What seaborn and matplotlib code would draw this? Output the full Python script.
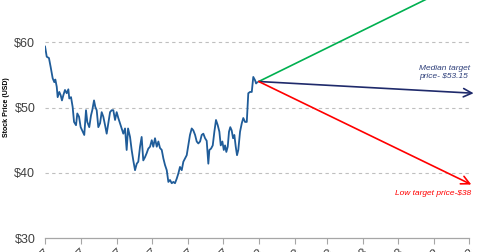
import numpy as np
import pandas as pd
import matplotlib
matplotlib.use("Agg")
import matplotlib.pyplot as plt
import matplotlib.dates as mdates
import seaborn as sns

# ---- data ----
start_date = "2017-07-01"
day_offsets = [0, 1.5, 3.4, 4.9, 6.6, 8.0, 8.9, 10.1, 10.9, 12.3, 13.5, 14.6, 15.8, 17.2,
               18.7, 20.1, 20.9, 22.4, 23.8, 25.0, 26.7, 27.8, 29.3, 30.7, 32.5, 33.8,
               35.3, 36.4, 38.1, 39.6, 40.7, 42.2, 43.3, 44.5, 45.9, 47.4, 48.8, 50.2,
               51.7, 53.1, 54.5, 56.0, 57.4, 58.8, 60.3, 61.7, 63.1, 64.6, 66.0, 67.4,
               68.9, 70.3, 71.5, 73.2, 74.6, 76.0, 77.5, 79.0, 80.3, 81.8, 83.2, 84.6,
               86.1, 87.5, 88.9, 90.4, 91.9, 93.2, 94.7, 96.2, 97.6, 99.0, 100.5, 101.9,
               103.3, 104.8, 106.2, 107.6, 109.1, 110.5, 111.9, 113.4, 114.8, 116.2,
               117.7, 119.1, 120.5, 122.0, 123.4, 124.8, 126.3, 127.7, 129.2, 130.6,
               132.0, 133.5, 134.9, 136.3, 137.8, 139.2, 140.6, 141.5, 142.9, 144.4,
               145.8, 147.2, 148.7, 150.1, 151.3, 152.7, 153.9, 155.0, 156.1, 157.3,
               158.4, 159.5, 160.7, 161.9, 163.0, 164.2, 165.3, 166.4, 167.9, 169.4,
               170.7, 172.2, 173.7, 175.0, 176.5, 178.0, 179.3, 180.8, 181.7, 182.8]
prices = [59.4, 57.8, 57.6, 56.2, 54.5, 53.9, 54.3, 53.2, 51.6, 52.4, 51.9, 51.1, 51.9, 52.7,
          52.2, 52.8, 51.4, 51.6, 50.1, 47.8, 47.3, 49.1, 48.6, 47.0, 46.3, 45.8,
          49.6, 47.8, 47.0, 48.8, 49.6, 51.1, 50.1, 49.6, 47.0, 47.6, 49.3, 48.6,
          47.3, 46.0, 47.6, 49.3, 49.6, 49.6, 48.1, 49.3, 48.4, 47.6, 46.8, 46.0,
          46.8, 43.5, 46.8, 45.5, 43.5, 41.9, 40.4, 41.4, 41.7, 44.0, 45.5, 41.9,
          42.4, 43.0, 43.7, 44.0, 45.0, 44.0, 45.3, 44.0, 44.8, 43.8, 43.5, 42.2,
          41.2, 40.4, 38.6, 38.9, 38.4, 38.6, 38.4, 39.1, 39.9, 40.9,
          40.4, 41.7, 42.2, 42.7, 44.2, 45.8, 46.8, 46.5, 45.8, 44.8,
          44.5, 44.8, 45.8, 46.0, 45.3, 44.9, 41.4, 43.5, 43.7, 44.2,
          46.3, 48.1, 47.3, 46.3, 44.2, 44.8, 43.5, 44.2, 43.2, 44.0,
          46.3, 47.0, 46.5, 45.3, 45.8, 44.0, 42.7, 43.5, 46.3, 47.6,
          48.4, 47.8, 47.8, 52.2, 52.4, 52.4, 54.7, 54.2, 53.7, 53.9]

proj_start_date = "2018-01-01"
proj_start_price = 54.0
proj_names = ["High", "Median", "Low"]
proj_end_dates = ["2018-07-04", "2018-07-05", "2018-07-03"]
proj_end_prices = [70.1, 52.2, 38.2]
proj_colors = ["#00B050", "#1F2A6B", "#FF0000"]

tick_dates = pd.date_range("2017-07-01", "2018-07-01", freq="MS")
y_ticks = [30, 40, 50, 60]
y_labels = ["$30", "$40", "$50", "$60"]

# ---- figure ----
sns.set_theme(style="white")
plt.rcParams["font.family"] = ["Liberation Sans", "DejaVu Sans"]

fig = plt.figure(figsize=(4.8, 2.52), dpi=100)
ax = fig.add_axes([45 / 480, 14 / 252, 424 / 480, 238 / 252])

df = pd.DataFrame({
    "date": pd.to_datetime(start_date) + pd.to_timedelta(day_offsets, unit="D"),
    "price": prices,
})
sns.lineplot(data=df, x="date", y="price", ax=ax, color="#1F5C99",
             linewidth=1.3, estimator=None, sort=False)

x0 = mdates.date2num(pd.to_datetime(proj_start_date))
for name, d, p, c in zip(proj_names, proj_end_dates, proj_end_prices, proj_colors):
    x1 = mdates.date2num(pd.to_datetime(d))
    ann = ax.annotate("", xy=(x1, p), xytext=(x0, proj_start_price),
                      arrowprops=dict(arrowstyle="->,head_length=0.5,head_width=0.25",
                                      color=c, lw=1.2, shrinkA=0, shrinkB=0),
                      annotation_clip=False)
    if name == "High":
        ann.arrow_patch.set_clip_on(True)
        ann.arrow_patch.set_clip_box(ax.bbox)

ax.text(mdates.date2num(pd.to_datetime("2018-05-19")), 56.6,
        "Median target\nprice- $53.15", color="#2E3F7A", fontsize=6,
        style="italic", ha="left", va="top", linespacing=1.2)
ax.text(mdates.date2num(pd.to_datetime("2018-07-03")), 36.8,
        "Low target price-$38", color="#FF0000", fontsize=6,
        style="italic", ha="right", va="center")

ax.set_xlim(mdates.date2num(tick_dates[0]), mdates.date2num(tick_dates[-1]))
ax.set_ylim(30, 66.5)
ax.set_xticks(mdates.date2num(tick_dates))
ax.set_xticklabels([t.strftime("%b-%y") for t in tick_dates], rotation=45,
                   ha="right", va="top", rotation_mode="anchor", fontsize=9,
                   color="#404040")
ax.set_yticks(y_ticks)
ax.set_yticklabels(y_labels, fontsize=9, color="#404040")
ax.tick_params(axis="y", length=0, pad=7)
ax.tick_params(axis="x", length=4, width=0.8, color="#A6A6A6", pad=2, direction="out")
ax.xaxis.set_ticks_position("bottom")

for v in [40, 50, 60]:
    ax.axhline(v, color="#BFBFBF", lw=0.8, ls=(0, (3, 3)), zorder=0)

for s in ["top", "right", "left"]:
    ax.spines[s].set_visible(False)
ax.spines["bottom"].set_color("#A6A6A6")
ax.spines["bottom"].set_linewidth(0.9)

ax.set_xlabel("")
ax.set_ylabel("Stock Price (USD)", fontsize=5, fontweight="bold", color="black")
ax.yaxis.set_label_coords(-0.082, 0.548)

fig.savefig("out.png", dpi=100)
